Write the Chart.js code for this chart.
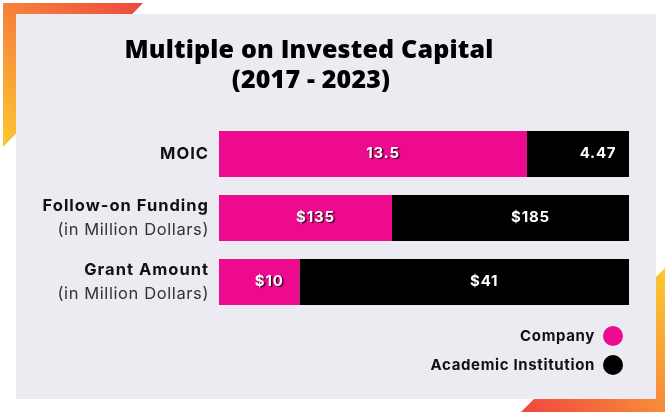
<!DOCTYPE html>
<html>
<head>
<meta charset="utf-8">
<script src="https://cdn.jsdelivr.net/npm/chart.js@4.4.1/dist/chart.umd.min.js"></script>
<style>
  html, body { margin: 0; padding: 0; background: #fff; }
  #wrap { width: 665px; height: 412px; position: relative; }
</style>
</head>
<body>
<div id="wrap"><canvas id="moicChart"></canvas></div>
<script>
// ==================== DADOS ====================
const categories = ['MOIC', 'Follow-on Funding', 'Grant Amount'];
const subLabels = ['', '(in Million Dollars)', '(in Million Dollars)'];
const valuePrefix = ['', '$', '$'];
const companyValues = [13.5, 135, 10];
const academicValues = [4.47, 185, 41];
const seriesNames = ['Company', 'Academic Institution'];
const seriesColors = ['#ee0a8f', '#000000'];
const titleLines = ['Multiple on Invested Capital', '(2017 - 2023)'];

// cada barra ocupa 100% (participação de cada lado)
function share(a, b) { return a / (a + b) * 100; }
const companyShare = companyValues.map((v, i) => share(v, academicValues[i]));
const academicShare = academicValues.map((v, i) => share(v, companyValues[i]));

const LABEL_FONT = 'Inter, "Open Sans", sans-serif';

// ==================== FUNDO / MOLDURA ====================
const backgroundPlugin = {
    id: 'fundo',
    beforeDraw(chart) {
        const ctx = chart.ctx;
        ctx.save();
        ctx.fillStyle = '#ffffff';
        ctx.fillRect(0, 0, chart.width, chart.height);

        // canto superior esquerdo
        let g = ctx.createLinearGradient(3, 146, 142, 3);
        g.addColorStop(0, '#fdc92f');
        g.addColorStop(0.45, '#f68a3b');
        g.addColorStop(1, '#f0463d');
        ctx.fillStyle = g;
        ctx.beginPath();
        ctx.moveTo(3, 3); ctx.lineTo(143, 3); ctx.lineTo(3, 147); ctx.closePath();
        ctx.fill();

        // canto inferior direito
        g = ctx.createLinearGradient(665, 270, 523, 412);
        g.addColorStop(0, '#fdc92f');
        g.addColorStop(0.5, '#f68a3b');
        g.addColorStop(1, '#f0463d');
        ctx.fillStyle = g;
        ctx.beginPath();
        ctx.moveTo(665, 268); ctx.lineTo(665, 412); ctx.lineTo(521, 412); ctx.closePath();
        ctx.fill();

        // painel cinza
        ctx.fillStyle = '#ebebf1';
        ctx.fillRect(16, 14, 640, 385);
        ctx.restore();
    }
};

// ==================== TEXTOS ====================
const textPlugin = {
    id: 'textos',
    afterDatasetsDraw(chart) {
        const ctx = chart.ctx;
        const offsets = [10, 20];
        ctx.save();
        ctx.font = '700 15px ' + LABEL_FONT;
        ctx.letterSpacing = '0.8px';
        ctx.textAlign = 'center';
        ctx.textBaseline = 'middle';
        ctx.fillStyle = '#ffffff';
        chart.data.datasets.forEach((ds, di) => {
            const meta = chart.getDatasetMeta(di);
            const raw = di === 0 ? companyValues : academicValues;
            meta.data.forEach((bar, i) => {
                const cx = (bar.x + bar.base) / 2 + offsets[di];
                if (di === 0) {
                    ctx.shadowColor = 'rgba(40,0,20,0.9)';
                    ctx.shadowOffsetX = 1.5;
                    ctx.shadowOffsetY = 1.5;
                    ctx.shadowBlur = 1;
                } else {
                    ctx.shadowColor = 'transparent';
                }
                ctx.fillText(valuePrefix[i] + raw[i], cx, bar.y - 1);
            });
        });
        ctx.restore();
    },
    afterDraw(chart) {
        const ctx = chart.ctx;
        const yScale = chart.scales.y;
        ctx.save();

        // título
        ctx.fillStyle = '#000';
        ctx.textAlign = 'center';
        ctx.textBaseline = 'alphabetic';
        ctx.font = '800 25px "Open Sans", sans-serif';
        ctx.letterSpacing = '0px';
        const natural = ctx.measureText(titleLines[0]).width;
        const ls = (369 - natural) / titleLines[0].length;
        ctx.letterSpacing = ls.toFixed(2) + 'px';
        ctx.fillText(titleLines[0], 309, 58);
        ctx.fillText(titleLines[1], 311, 88);

        // rótulos das categorias
        ctx.textAlign = 'right';
        categories.forEach((cat, i) => {
            const y = yScale.getPixelForValue(i);
            ctx.font = '700 16.5px ' + LABEL_FONT;
            ctx.letterSpacing = '1px';
            ctx.fillStyle = '#111';
            if (subLabels[i]) {
                ctx.fillText(cat, 209, y - 7);
                ctx.font = '400 16.5px ' + LABEL_FONT;
                ctx.letterSpacing = '0.6px';
                ctx.fillStyle = '#333';
                ctx.fillText(subLabels[i], 209, y + 17);
            } else {
                ctx.fillText(cat, 209, y + 5);
            }
        });

        // legenda
        ctx.font = '700 15px ' + LABEL_FONT;
        ctx.letterSpacing = '0.65px';
        chart.data.datasets.forEach((ds, di) => {
            const ly = 336 + di * 29;
            ctx.fillStyle = '#111';
            ctx.textBaseline = 'middle';
            ctx.fillText(ds.label, 595, ly);
            ctx.fillStyle = ds.backgroundColor;
            ctx.beginPath();
            ctx.arc(613, ly, 10, 0, Math.PI * 2);
            ctx.fill();
        });
        ctx.restore();
    }
};

// ==================== GRÁFICO ====================
const ctx = document.getElementById('moicChart').getContext('2d');
new Chart(ctx, {
    type: 'bar',
    data: {
        labels: categories,
        datasets: [
            { label: seriesNames[0], data: companyShare, backgroundColor: seriesColors[0] },
            { label: seriesNames[1], data: academicShare, backgroundColor: seriesColors[1] }
        ]
    },
    options: {
        indexAxis: 'y',
        responsive: true,
        maintainAspectRatio: false,
        animation: false,
        layout: { padding: { left: 219, right: 36, top: 122, bottom: 98 } },
        datasets: { bar: { categoryPercentage: 1, barPercentage: 0.72, borderWidth: 0 } },
        scales: {
            x: { stacked: true, min: 0, max: 100, display: false },
            y: { stacked: true, display: false }
        },
        plugins: {
            legend: { display: false },
            title: { display: false },
            tooltip: { enabled: false }
        }
    },
    plugins: [backgroundPlugin, textPlugin]
});
</script>
</body>
</html>
